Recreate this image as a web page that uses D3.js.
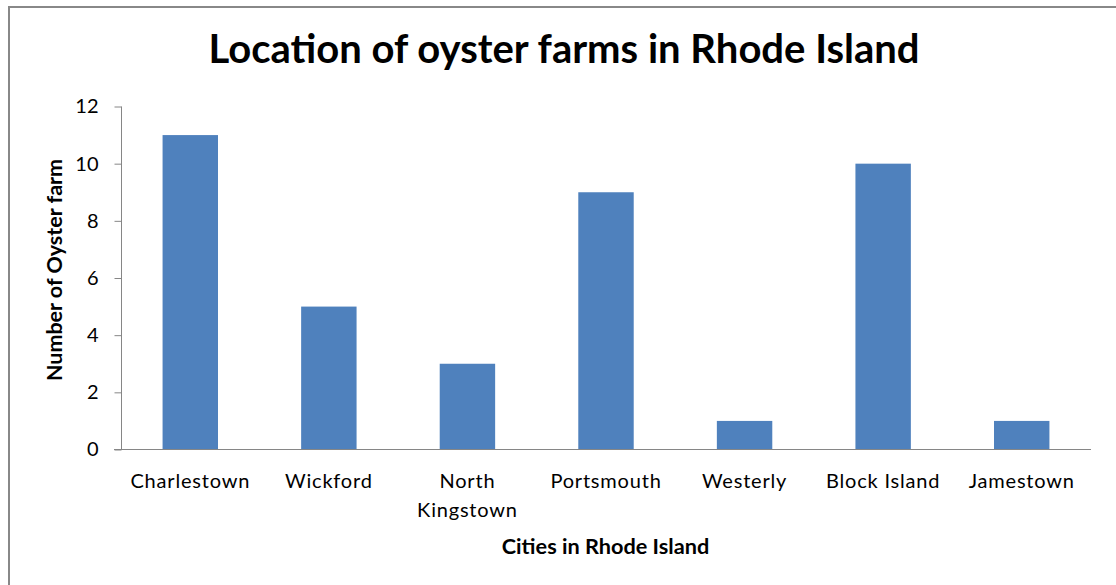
<!DOCTYPE html>
<html><head><meta charset="utf-8">
<script src="https://cdn.jsdelivr.net/npm/d3@7"></script>
<style>html,body{margin:0;padding:0;background:#fff;overflow:hidden}</style>
</head><body>
<svg id="c" width="1116" height="585"></svg>
<script>
const categories = ["Charlestown","Wickford","North Kingstown","Portsmouth","Westerly","Block Island","Jamestown"];
const values = [11,5,3,9,1,10,1];
const yTicks = [0,2,4,6,8,10,12];
const title = "Location of oyster farms in Rhode Island";
const xTitle = "Cities in Rhode Island";
const yTitle = "Number of Oyster farm";

const svg = d3.select("#c");
const font = "Lato, 'Open Sans', sans-serif";
svg.append("rect").attr("x",9).attr("y",7).attr("width",1116).attr("height",600)
  .attr("fill","#fff").attr("stroke","#888").attr("stroke-width",2);

const x = d3.scaleBand().domain(categories).range([121,1091]).paddingInner(0.6).paddingOuter(0.3);
const y = d3.scaleLinear().domain([0,12]).range([449.5,106.5]);

svg.append("g").selectAll("rect").data(values).join("rect")
  .attr("x",(d,i)=>x(categories[i])).attr("width",x.bandwidth())
  .attr("y",d=>y(d)).attr("height",d=>y(0)-y(d)).attr("fill","#4F81BD");

const ya = svg.append("g").attr("transform","translate(121.5,0)")
  .call(d3.axisLeft(y).tickValues(yTicks).tickSize(7).tickPadding(16));
ya.select(".domain").attr("stroke","#868686").attr("d","M0,106.5V449.5");
ya.selectAll(".tick line").attr("stroke","#868686");
ya.selectAll("text").attr("font-family",font).attr("font-size",20).attr("fill","#000");

const xa = svg.append("g").attr("transform","translate(0,449.5)")
  .call(d3.axisBottom(x).tickSize(0).tickPadding(0).tickFormat(""));
xa.select(".domain").attr("stroke","#868686").attr("d","M114,0H1091");

const lbl = svg.append("g");
categories.forEach(c=>{
  const words = c==="North Kingstown" ? ["North","Kingstown"] : [c];
  const t = lbl.append("text").attr("x",x(c)+x.bandwidth()/2).attr("y",488)
    .attr("text-anchor","middle").attr("font-family",font).attr("font-size",20)
    .attr("letter-spacing",0.8).attr("fill","#000");
  words.forEach((w,i)=>t.append("tspan").attr("x",x(c)+x.bandwidth()/2).attr("dy",i?29:0).text(w));
});

svg.append("text").attr("x",564).attr("y",63).attr("text-anchor","middle")
  .attr("font-family",font).attr("font-weight","bold").attr("font-size",40).text(title);
svg.append("text").attr("x",605.5).attr("y",554).attr("text-anchor","middle")
  .attr("font-family",font).attr("font-weight","bold").attr("font-size",21.7).text(xTitle);
svg.append("text").attr("transform","translate(62,270) rotate(-90)").attr("text-anchor","middle")
  .attr("font-family",font).attr("font-weight","bold").attr("font-size",21.5).text(yTitle);
</script>
</body></html>
